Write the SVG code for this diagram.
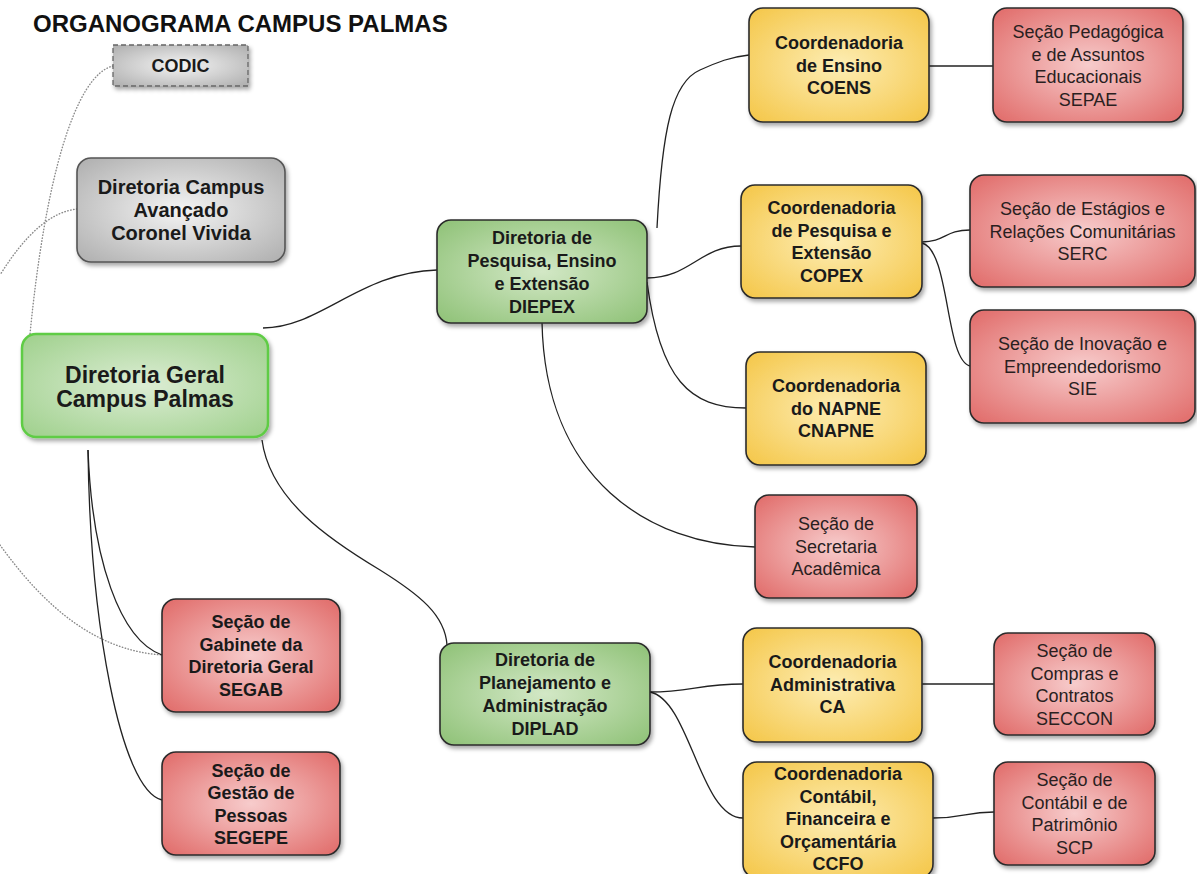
<svg xmlns="http://www.w3.org/2000/svg" width="1197" height="874" viewBox="0 0 1197 874">
<defs>
<radialGradient id="gGreen" cx="50%" cy="50%" r="65%"><stop offset="0" stop-color="#d3e8c6"/><stop offset="1" stop-color="#93c47c"/></radialGradient>
<radialGradient id="gMain" cx="50%" cy="50%" r="65%"><stop offset="0" stop-color="#dcedd4"/><stop offset="1" stop-color="#a3d291"/></radialGradient>
<radialGradient id="gYellow" cx="50%" cy="50%" r="65%"><stop offset="0" stop-color="#fdedb4"/><stop offset="1" stop-color="#f5c94f"/></radialGradient>
<radialGradient id="gRed" cx="50%" cy="50%" r="65%"><stop offset="0" stop-color="#f7cccc"/><stop offset="1" stop-color="#e2716f"/></radialGradient>
<radialGradient id="gGrey" cx="50%" cy="50%" r="65%"><stop offset="0" stop-color="#f4f4f4"/><stop offset="1" stop-color="#b3b3b3"/></radialGradient>
<filter id="sh" x="-10%" y="-10%" width="125%" height="130%"><feDropShadow dx="2" dy="3" stdDeviation="2" flood-color="#000" flood-opacity="0.35"/></filter>
</defs>
<style>
.box{stroke:#2b2b2b;stroke-width:1.6;filter:url(#sh)}
.green{fill:url(#gGreen)}
.yellow{fill:url(#gYellow)}
.red{fill:url(#gRed)}
.grey{fill:url(#gGrey);stroke:#555}
.main{fill:url(#gMain);stroke:#5fcc45;stroke-width:2.5}
.codic{fill:url(#gGrey);stroke:#666;stroke-width:1.3;stroke-dasharray:5 3;filter:url(#sh)}
text{font-family:"Liberation Sans",Arial,sans-serif;font-size:18px;fill:#1a1a1a;text-anchor:middle}
.b{font-weight:bold}
.n{font-weight:normal;fill:#2a1f1f}
.title{font-size:24px;font-weight:bold;text-anchor:start;fill:#111}
.conn{fill:none;stroke:#222;stroke-width:1.3}
.dot{fill:none;stroke:#8a8a8a;stroke-width:1.4;stroke-dasharray:0.5 2.5;stroke-linecap:round}
</style>
<rect width="1197" height="874" fill="#fff"/>
<text class="title" x="33" y="32">ORGANOGRAMA CAMPUS PALMAS</text>

<g id="connectors">
<path class="dot" d="M113,66 C75,75 45,180 30,334"/>
<path class="dot" d="M77,209 C50,212 25,235 0,275"/>
<path class="dot" d="M0,545 C40,600 90,650 162,655"/>
<path class="conn" d="M263,328 C320,328 360,272 437,270"/>
<path class="conn" d="M262,440 C270,500 330,540 380,570 C420,595 445,615 447,645"/>
<path class="conn" d="M88,450 C92,560 120,640 162,655"/>
<path class="conn" d="M88,450 C90,620 120,790 162,800"/>
<path class="conn" d="M657,228 C662,130 672,82 700,70 C718,62 730,57 749,55"/>
<path class="conn" d="M647,278 C690,278 700,246 741,246"/>
<path class="conn" d="M647,282 C660,380 690,408 746,408"/>
<path class="conn" d="M542,322 C545,480 650,545 755,547"/>
<path class="conn" d="M929,66 L993,66"/>
<path class="conn" d="M922,242 C945,242 945,230 970,230"/>
<path class="conn" d="M922,243 C950,250 945,360 970,366"/>
<path class="conn" d="M650,692 C690,692 700,684 743,684"/>
<path class="conn" d="M650,692 C690,700 700,818 743,818"/>
<path class="conn" d="M922,684 L994,684"/>
<path class="conn" d="M933,818 C965,818 965,812 994,812"/>
</g>

<g id="codic">
<rect class="codic" x="113" y="45" width="135" height="41"/>
<text class="b" x="180.5" y="72">CODIC</text>
</g>

<g id="dcav">
<rect class="box grey" x="77" y="158" width="208" height="104" rx="14"/>
<text class="b" style="font-size:20px" x="181" y="194">Diretoria Campus</text>
<text class="b" style="font-size:20px" x="181" y="217">Avançado</text>
<text class="b" style="font-size:20px" x="181" y="240">Coronel Vivida</text>
</g>

<g id="dg">
<rect class="box main" x="22" y="334" width="246" height="103" rx="14"/>
<text class="b" style="font-size:23px" x="145" y="383">Diretoria Geral</text>
<text class="b" style="font-size:23px" x="145" y="407">Campus Palmas</text>
</g>

<g id="diepex">
<rect class="box green" x="437" y="220" width="210" height="103" rx="14"/>
<text class="b" x="542" y="244">Diretoria de</text>
<text class="b" x="542" y="267">Pesquisa, Ensino</text>
<text class="b" x="542" y="290">e Extensão</text>
<text class="b" x="542" y="313">DIEPEX</text>
</g>

<g id="diplad">
<rect class="box green" x="440" y="643" width="210" height="102" rx="14"/>
<text class="b" x="545" y="666">Diretoria de</text>
<text class="b" x="545" y="689">Planejamento e</text>
<text class="b" x="545" y="712">Administração</text>
<text class="b" x="545" y="735">DIPLAD</text>
</g>

<g id="coens">
<rect class="box yellow" x="749" y="8" width="180" height="114" rx="14"/>
<text class="b" x="839" y="49">Coordenadoria</text>
<text class="b" x="839" y="71.5">de Ensino</text>
<text class="b" x="839" y="94">COENS</text>
</g>

<g id="sepae">
<rect class="box red" x="993" y="8" width="190" height="114" rx="14"/>
<text class="n" x="1088" y="38">Seção Pedagógica</text>
<text class="n" x="1088" y="60.5">e de Assuntos</text>
<text class="n" x="1088" y="83">Educacionais</text>
<text class="n" x="1088" y="105.5">SEPAE</text>
</g>

<g id="copex">
<rect class="box yellow" x="741" y="185" width="181" height="113" rx="14"/>
<text class="b" x="831.5" y="214">Coordenadoria</text>
<text class="b" x="831.5" y="236.5">de Pesquisa e</text>
<text class="b" x="831.5" y="259">Extensão</text>
<text class="b" x="831.5" y="281.5">COPEX</text>
</g>

<g id="serc">
<rect class="box red" x="970" y="175" width="225" height="112" rx="14"/>
<text class="n" x="1082.5" y="215">Seção de Estágios e</text>
<text class="n" x="1082.5" y="237.5">Relações Comunitárias</text>
<text class="n" x="1082.5" y="260">SERC</text>
</g>

<g id="sie">
<rect class="box red" x="970" y="310" width="225" height="113" rx="14"/>
<text class="n" x="1082.5" y="350">Seção de Inovação e</text>
<text class="n" x="1082.5" y="372.5">Empreendedorismo</text>
<text class="n" x="1082.5" y="395">SIE</text>
</g>

<g id="cnapne">
<rect class="box yellow" x="746" y="352" width="180" height="113" rx="14"/>
<text class="b" x="836" y="392">Coordenadoria</text>
<text class="b" x="836" y="414.5">do NAPNE</text>
<text class="b" x="836" y="437">CNAPNE</text>
</g>

<g id="secacad">
<rect class="box red" x="755" y="495" width="162" height="103" rx="14"/>
<text class="n" x="836" y="530">Seção de</text>
<text class="n" x="836" y="552.5">Secretaria</text>
<text class="n" x="836" y="575">Acadêmica</text>
</g>

<g id="ca">
<rect class="box yellow" x="743" y="628" width="179" height="114" rx="14"/>
<text class="b" x="832.5" y="668">Coordenadoria</text>
<text class="b" x="832.5" y="690.5">Administrativa</text>
<text class="b" x="832.5" y="713">CA</text>
</g>

<g id="seccon">
<rect class="box red" x="994" y="633" width="161" height="102" rx="14"/>
<text class="n" x="1074.5" y="657">Seção de</text>
<text class="n" x="1074.5" y="679.5">Compras e</text>
<text class="n" x="1074.5" y="702">Contratos</text>
<text class="n" x="1074.5" y="724.5">SECCON</text>
</g>

<g id="ccfo">
<rect class="box yellow" x="743" y="762" width="190" height="116" rx="14"/>
<text class="b" x="838" y="780">Coordenadoria</text>
<text class="b" x="838" y="802.5">Contábil,</text>
<text class="b" x="838" y="825">Financeira e</text>
<text class="b" x="838" y="847.5">Orçamentária</text>
<text class="b" x="838" y="870">CCFO</text>
</g>

<g id="scp">
<rect class="box red" x="994" y="762" width="161" height="103" rx="14"/>
<text class="n" x="1074.5" y="786">Seção de</text>
<text class="n" x="1074.5" y="808.5">Contábil e de</text>
<text class="n" x="1074.5" y="831">Patrimônio</text>
<text class="n" x="1074.5" y="853.5">SCP</text>
</g>

<g id="segab">
<rect class="box red" x="162" y="599" width="178" height="113" rx="14"/>
<text class="b" x="251" y="628">Seção de</text>
<text class="b" x="251" y="650.5">Gabinete da</text>
<text class="b" x="251" y="673">Diretoria Geral</text>
<text class="b" x="251" y="695.5">SEGAB</text>
</g>

<g id="segepe">
<rect class="box red" x="162" y="752" width="178" height="103" rx="14"/>
<text class="b" x="251" y="776.5">Seção de</text>
<text class="b" x="251" y="799">Gestão de</text>
<text class="b" x="251" y="821.5">Pessoas</text>
<text class="b" x="251" y="844">SEGEPE</text>
</g>
</svg>
